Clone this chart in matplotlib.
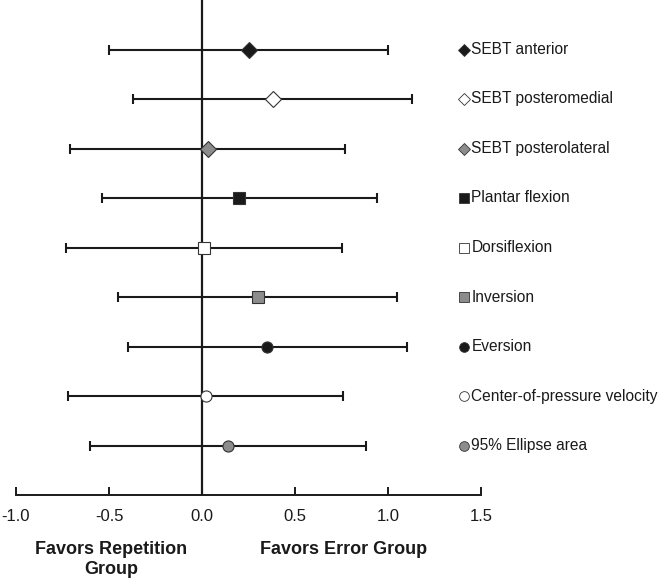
import matplotlib.pyplot as plt

plt.rcParams['font.family'] = ['Liberation Sans', 'DejaVu Sans']

# outcome measures, effect sizes and 95% CI
labels = ['SEBT anterior', 'SEBT posteromedial', 'SEBT posterolateral',
          'Plantar flexion', 'Dorsiflexion', 'Inversion', 'Eversion',
          'Center-of-pressure velocity', '95% Ellipse area']
effect = [0.25, 0.38, 0.03, 0.20, 0.01, 0.30, 0.35, 0.02, 0.14]
lower = [-0.50, -0.37, -0.71, -0.54, -0.73, -0.45, -0.40, -0.72, -0.60]
upper = [1.00, 1.13, 0.77, 0.94, 0.75, 1.05, 1.10, 0.76, 0.88]
markers = ['D', 'D', 'D', 's', 's', 's', 'o', 'o', 'o']
fills = ['#1a1a1a', 'white', '#8c8c8c'] * 3

xticks = [-1.0, -0.5, 0.0, 0.5, 1.0, 1.5]

fig = plt.figure(figsize=(6.59, 5.79), dpi=100)
ax = fig.add_axes([16 / 659, 84 / 579, 465 / 659, 495 / 579])

ax.axvline(0, color='#1a1a1a', lw=1.6, zorder=1)

for i in range(len(labels)):
    y = i + 1
    ax.errorbar(effect[i], y,
                xerr=[[effect[i] - lower[i]], [upper[i] - effect[i]]],
                fmt='none', ecolor='#1a1a1a', elinewidth=1.5,
                capsize=3.5, capthick=1.5, zorder=2)
    ax.plot(effect[i], y, marker=markers[i], ms=8, mfc=fills[i],
            mec='#333333', mew=0.8, linestyle='none', zorder=3)
    # label beside each row
    lms = 6.3 if markers[i] == 'D' else 7
    ax.plot(1.411, y, marker=markers[i], ms=lms, mfc=fills[i],
            mec='#333333', mew=0.6, linestyle='none', clip_on=False)
    ax.text(1.448, y, labels[i], fontsize=11.2, va='center', ha='left',
            color='#1a1a1a', clip_on=False)

ax.set_xlim(-1.0, 1.5)
ax.set_ylim(10, 0)
ax.set_xticks(xticks)
ax.set_xticklabels([f'{t:.1f}' for t in xticks], fontsize=12, color='#1a1a1a')
ax.set_yticks([])
for s in ['top', 'right', 'left']:
    ax.spines[s].set_visible(False)
ax.spines['bottom'].set_linewidth(1.4)
ax.spines['bottom'].set_color('#1a1a1a')
ax.tick_params(axis='x', direction='in', length=6, width=1.4,
               color='#1a1a1a', pad=10)

ax.text(-0.49, -0.093, 'Favors Repetition\nGroup', transform=ax.get_xaxis_transform(),
        ha='center', va='top', fontsize=13, fontweight='bold', color='#1a1a1a',
        linespacing=1.2)
ax.text(0.76, -0.093, 'Favors Error Group', transform=ax.get_xaxis_transform(),
        ha='center', va='top', fontsize=13, fontweight='bold', color='#1a1a1a')

fig.savefig('out.png', dpi=100)
